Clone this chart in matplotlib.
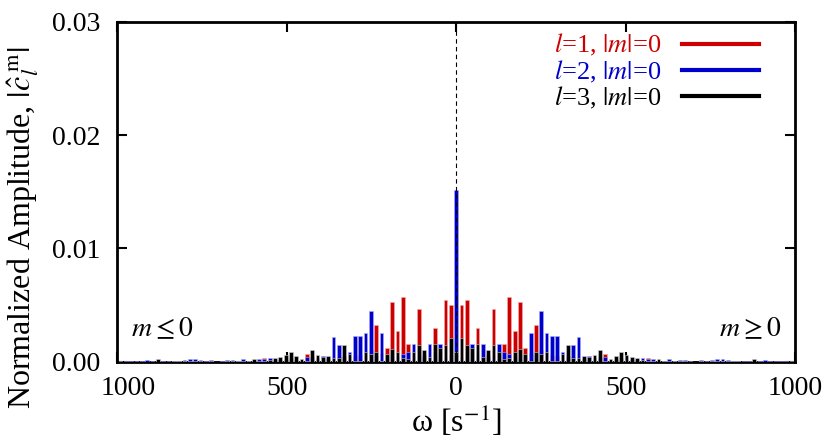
import numpy as np
import matplotlib
matplotlib.use('Agg')
import matplotlib.pyplot as plt
from matplotlib.lines import Line2D
from matplotlib.transforms import ScaledTranslation

plt.rcParams['font.family'] = 'Liberation Serif'
plt.rcParams['mathtext.fontset'] = 'stix'

# Bar index n (frequency = n * 5*pi s^-1), n = -63 ... 63
# Values for n = 0 ... 63 (units of 1e-3); the spectrum in the picture is mirror symmetric
red_pos = [0.0, 4.97, 5.47, 0.9, 3.0, 0.3, 0.6, 4.7, 0.5, 1.56,
           5.7, 2.7, 5.3, 1.26, 0.8, 3.26, 1.0, 0.8, 0.6, 0.5,
           0.3, 0.5, 0.4, 0.3, 0.2, 0.2, 0.3, 0.4, 0.68, 0.1,
           0.2, 0.3, 0.2, 0.2, 0.1, 0.1, 0.32, 0.1, 0.05, 0.04,
           0.1, 0.05, 0.05, 0.05, 0.03, 0.06, 0.05, 0.03, 0.05, 0.05,
           0.05, 0.05, 0.03, 0.03, 0.06, 0.03, 0.05, 0.03, 0.03, 0.03,
           0.06, 0.07, 0.03, 0.02]
blue_pos = [15.15, 0.5, 0.4, 1.56, 0.6, 1.56, 0.4, 0.5, 1.6, 0.85,
            0.7, 0.4, 0.5, 0.5, 2.56, 0.6, 4.44, 2.5, 2.26, 2.26,
            0.82, 0.3, 1.44, 2.18, 0.3, 0.5, 0.3, 0.3, 0.38, 0.1,
            0.2, 0.2, 0.2, 0.2, 0.2, 0.32, 0.24, 0.26, 0.1, 0.05,
            0.24, 0.08, 0.12, 0.12, 0.05, 0.02, 0.12, 0.05, 0.2, 0.22,
            0.25, 0.15, 0.1, 0.03, 0.03, 0.05, 0.1, 0.1, 0.12, 0.08,
            0.03, 0.03, 0.05, 0.02]
black_pos = [0.82, 2.1, 1.44, 1.26, 1.56, 0.38, 1.03, 1.44, 0.85, 0.26,
             0.3, 0.9, 1.1, 0.68, 0.05, 0.9, 0.7, 0.9, 0.1, 0.1,
             0.65, 1.44, 0.32, 0.32, 0.5, 0.44, 0.62, 1.0, 0.1, 0.24,
             0.5, 0.85, 0.56, 0.44, 0.35, 0.18, 0.05, 0.05, 0.26, 0.06,
             0.05, 0.03, 0.03, 0.03, 0.02, 0.02, 0.03, 0.02, 0.03, 0.03,
             0.03, 0.03, 0.05, 0.05, 0.02, 0.02, 0.25, 0.02, 0.02, 0.02,
             0.02, 0.02, 0.02, 0.03]

n_pos = np.arange(len(red_pos))
n_all = np.concatenate([-n_pos[::-1], n_pos[1:]])
omega = n_all * 5 * np.pi

def mirror(v):
    v = np.array(v) * 1e-3
    return np.concatenate([v[::-1], v[1:]])

red = mirror(red_pos)
blue = mirror(blue_pos)
black = mirror(black_pos)

c_red = '#cc0000'
c_blue = '#0000cc'
c_black = '#000000'

fig = plt.figure(figsize=(8.3, 4.45), dpi=100)
ax = fig.add_axes([0.141, 0.187, 0.817, 0.764])

w = 11
ax.bar(omega, red, width=w, color=c_red, edgecolor='#f0b0b0', linewidth=0.4, zorder=2)
ax.bar(omega, blue, width=w, color=c_blue, edgecolor='#b0b0f0', linewidth=0.4, zorder=3)
ax.bar(omega, black, width=w, color=c_black, edgecolor='#d0d0d0', linewidth=0.4, zorder=4)

# dashed line at omega = 0
ax.axvline(0, color='black', linestyle=(0, (4, 3)), linewidth=0.8, zorder=5)

ax.set_xlim(-1000, 1000)
ax.set_ylim(0, 0.03)
ax.set_xticks([-1000, -500, 0, 500, 1000])
ax.set_xticklabels(['1000', '500', '0', '500', '1000'])
ax.set_yticks([0, 0.01, 0.02, 0.03])
ax.set_yticklabels(['0.00', '0.01', '0.02', '0.03'])
ax.tick_params(direction='in', length=7, width=1.5, top=True, right=True,
               labelsize=20)
ax.tick_params(axis='y', pad=12)
ax.tick_params(axis='x', pad=10)
for s in ax.spines.values():
    s.set_linewidth(2)

# first x label sits a little to the right, as in the original
lbl0 = ax.get_xticklabels()[0]
lbl0.set_transform(lbl0.get_transform() + ScaledTranslation(0.11, 0, fig.dpi_scale_trans))

ax.set_xlabel(r'ω [s$^{-1}$]', fontsize=23, labelpad=2)
ax.set_ylabel(r'Normalized Amplitude, $|\hat{c}_{l}^{\;\mathrm{m}}|$', fontsize=23)
ax.yaxis.set_label_coords(-0.112, 0.395)

ax.text(-960, 0.0017, r'$m\leq0$', fontsize=20, ha='left', va='bottom')
ax.text(960, 0.0017, r'$m\geq0$', fontsize=20, ha='right', va='bottom')

handles = [Line2D([], [], color=c_red, lw=3),
           Line2D([], [], color=c_blue, lw=3),
           Line2D([], [], color=c_black, lw=3)]
labels = [r'$l$=1, $|m|$=0', r'$l$=2, $|m|$=0', r'$l$=3, $|m|$=0']
ax.legend(handles, labels, loc='upper right', markerfirst=False, frameon=False,
          fontsize=19, handlelength=2.9, handletextpad=0.8, labelspacing=0.0,
          borderaxespad=0.0, bbox_to_anchor=(0.962, 1.0),
          labelcolor=[c_red, c_blue, c_black])

fig.savefig('out.png', dpi=100)
